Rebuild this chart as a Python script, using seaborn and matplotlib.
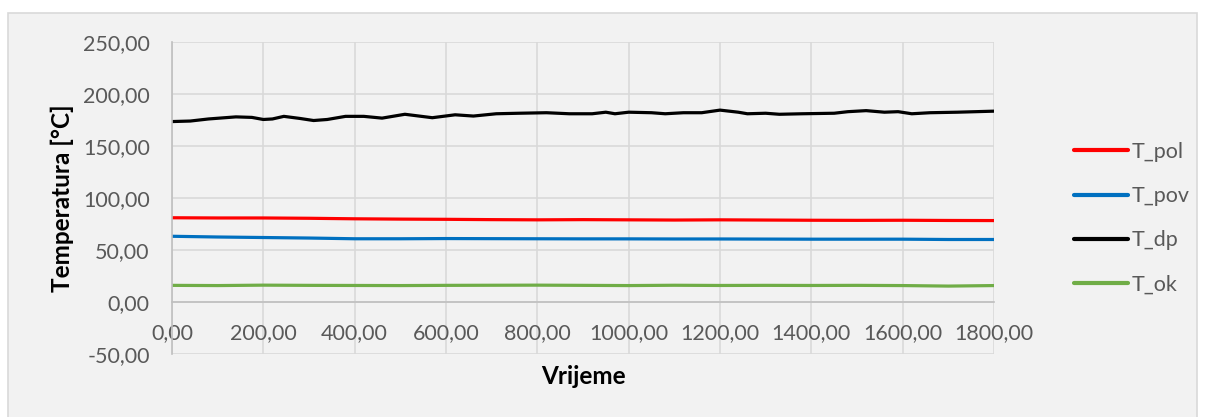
import pandas as pd
import numpy as np
import matplotlib.pyplot as plt
import seaborn as sns
from matplotlib.patches import Rectangle
from matplotlib.ticker import FuncFormatter

# --- data ---
t_base = [0, 100, 200, 300, 400, 500, 600, 700, 800, 900,
          1000, 1100, 1200, 1300, 1400, 1500, 1600, 1700, 1800]
t_pol = [81.0, 80.8, 80.8, 80.5, 80.0, 79.7, 79.5, 79.2, 79.0, 79.2,
         79.0, 78.8, 79.0, 78.8, 78.6, 78.5, 78.6, 78.4, 78.3]
t_pov = [63.2, 62.5, 62.0, 61.5, 60.8, 60.8, 61.0, 60.9, 60.8, 60.7,
         60.7, 60.6, 60.6, 60.5, 60.4, 60.4, 60.4, 60.1, 60.1]
t_ok = [16.0, 15.8, 16.2, 16.0, 15.9, 15.8, 16.0, 16.1, 16.2, 16.0,
        15.8, 16.1, 15.9, 16.0, 15.9, 16.0, 15.8, 15.3, 15.8]

t_dp_time = [0, 40, 80, 140, 175, 200, 220, 245, 280, 310, 340, 380, 420, 460,
             510, 570, 620, 660, 710, 760, 820, 870, 920, 950, 970, 1000, 1050,
             1080, 1120, 1160, 1200, 1240, 1260, 1300, 1330, 1380, 1450, 1480,
             1520, 1560, 1590, 1620, 1660, 1720, 1800]
t_dp = [173.5, 174.0, 176.0, 178.0, 177.5, 175.5, 176.0, 178.5, 176.5, 174.5,
        175.5, 178.5, 178.5, 176.8, 180.5, 177.2, 180.0, 178.8, 181.0, 181.5,
        182.0, 181.0, 181.0, 182.5, 181.0, 182.5, 182.0, 181.0, 182.0, 182.0,
        184.5, 182.5, 181.0, 181.5, 180.5, 181.0, 181.5, 183.0, 184.0, 182.5,
        183.0, 181.0, 182.0, 182.5, 183.5]

series = ['T_pol', 'T_pov', 'T_dp', 'T_ok']
colors = {'T_pol': '#FF0000', 'T_pov': '#0070C0', 'T_dp': '#000000', 'T_ok': '#70AD47'}

df = pd.concat([
    pd.DataFrame({'Vrijeme': t_base, 'T': t_pol, 'Serija': 'T_pol'}),
    pd.DataFrame({'Vrijeme': t_base, 'T': t_pov, 'Serija': 'T_pov'}),
    pd.DataFrame({'Vrijeme': t_dp_time, 'T': t_dp, 'Serija': 'T_dp'}),
    pd.DataFrame({'Vrijeme': t_base, 'T': t_ok, 'Serija': 'T_ok'}),
], ignore_index=True)

# --- plot ---
sns.set_style('white')
plt.rcParams['font.family'] = ['Lato', 'DejaVu Sans']

fig = plt.figure(figsize=(12.05, 4.17), dpi=100)
fig.patch.set_facecolor('white')
fig.patches.append(Rectangle((8 / 1205, -0.01), 1189 / 1205, 1.01 - 13 / 417,
                             transform=fig.transFigure, facecolor='#F2F2F2',
                             edgecolor='#D9D9D9', linewidth=1.2, zorder=-5))

ax = fig.add_axes([172 / 1205, 1 - 354 / 417, 822 / 1205, 312 / 417])
ax.set_facecolor('#F2F2F2')

sns.lineplot(data=df, x='Vrijeme', y='T', hue='Serija', hue_order=series,
             palette=colors, linewidth=2.3, sort=True, ax=ax, legend=True)

ax.set_xlim(0, 1800)
ax.set_ylim(-50, 250)
ax.set_xticks(np.arange(0, 1801, 200))
ax.set_yticks(np.arange(-50, 251, 50))
fmt = FuncFormatter(lambda v, p: f'{v:.2f}'.replace('.', ','))
ax.xaxis.set_major_formatter(fmt)
ax.yaxis.set_major_formatter(fmt)

ax.grid(True, color='#D9D9D9', linewidth=1.2)
ax.set_axisbelow(True)
for s in ['top', 'right']:
    ax.spines[s].set_visible(False)
ax.spines['left'].set_color('#BFBFBF')
ax.spines['left'].set_linewidth(1.2)
ax.spines['bottom'].set_position(('data', 0))
ax.spines['bottom'].set_color('#BFBFBF')
ax.spines['bottom'].set_linewidth(1.2)

ax.tick_params(axis='both', length=0, labelsize=15.5, labelcolor='#595959')
ax.tick_params(axis='x', pad=15)
ax.tick_params(axis='y', pad=16)

ax.set_xlabel('')
ax.set_ylabel('')
fig.text(583 / 1205, 1 - 376 / 417, 'Vrijeme', ha='center', va='center',
         fontsize=17.5, fontweight='bold', color='black')
fig.text(62 / 1205, 1 - 198 / 417, 'Temperatura [°C]', ha='center', va='center',
         rotation=90, fontsize=17.5, fontweight='bold', color='black')

handles, labels = ax.get_legend_handles_labels()
ax.get_legend().remove()
leg = fig.legend(handles, labels, loc='upper left',
                 bbox_to_anchor=(1074 / 1205, 1 - 142 / 417),
                 frameon=False, fontsize=15.5, handlelength=2.5,
                 handletextpad=0.2, labelspacing=1.12, borderpad=0,
                 borderaxespad=0)
for t in leg.get_texts():
    t.set_color('#595959')
for h in leg.get_lines():
    h.set_linewidth(3)

fig.savefig('out.png', dpi=100, facecolor=fig.get_facecolor())
